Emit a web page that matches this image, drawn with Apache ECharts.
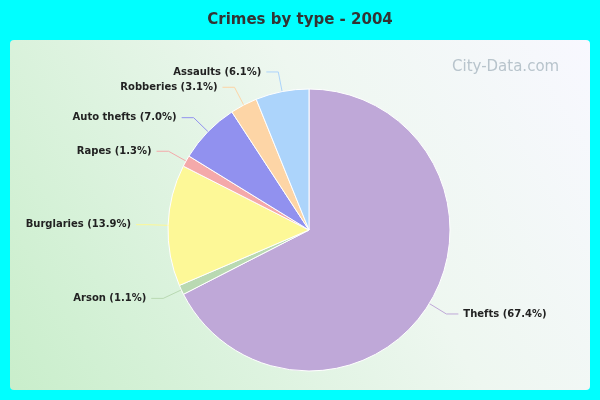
<!DOCTYPE html>
<html><head><meta charset="utf-8">
<script src="https://cdn.jsdelivr.net/npm/echarts@6/dist/echarts.min.js"></script>
<style>html,body{margin:0;padding:0;background:#00ffff}#c{width:600px;height:400px}</style>
</head><body><div id="c"></div>
<script>
const categories = ["Thefts","Arson","Burglaries","Rapes","Auto thefts","Robberies","Assaults"];
const values = [67.4,1.1,13.9,1.3,7.0,3.1,6.1];
const colors = ["#bfa8d8","#b9d9b2","#fdf897","#f4a9aa","#9191ef","#fdd5a6","#acd4fb"];
const chart = echarts.init(document.getElementById('c'));
chart.setOption({
  backgroundColor:'#00ffff',
  title:{text:'Crimes by type - 2004',left:'center',top:8,textStyle:{fontFamily:'DejaVu Sans',fontSize:15,fontWeight:'bold',color:'#333'}},
  graphic:[
    {type:'rect',shape:{x:10,y:40,width:580,height:350,r:4},z:-10,style:{fill:new echarts.graphic.LinearGradient(0,1,1,0,[{offset:0,color:'#c9eecb'},{offset:0.6,color:'#eef7f0'},{offset:1,color:'#f8f8ff'}])}},
    {type:'text',left:452,top:60,z:-5,style:{text:'City-Data.com',fontFamily:'DejaVu Sans',fontSize:15,fill:'#b8c4cc'}}
  ],
  series:[{
    type:'pie',center:[309,230],radius:141,startAngle:90,clockwise:true,
    data:categories.map((c,i)=>({name:c,value:values[i],itemStyle:{color:colors[i]}})),
    itemStyle:{borderColor:'#fff',borderWidth:1},
    label:{formatter:p=>p.name+' ('+p.value.toFixed(1)+'%)',fontFamily:'DejaVu Sans',fontSize:10,fontWeight:'bold',color:'#222'},
    labelLine:{length:20,length2:12,lineStyle:{width:1}},
    emphasis:{disabled:true}
  }]
});
</script></body></html>
